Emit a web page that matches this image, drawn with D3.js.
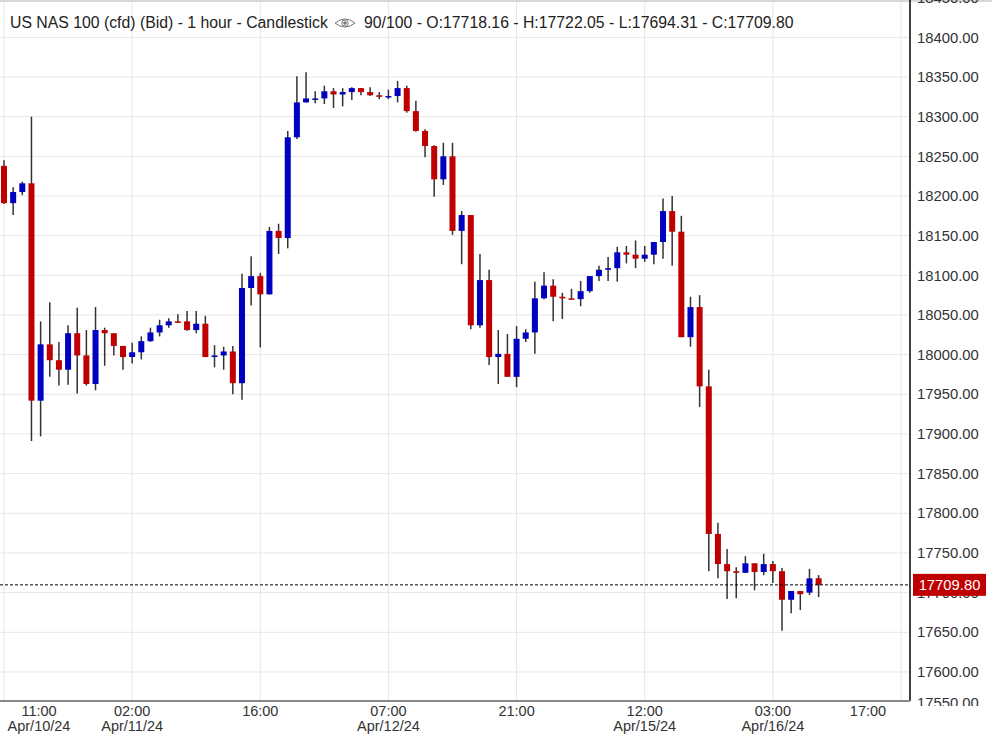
<!DOCTYPE html>
<html>
<head>
<meta charset="utf-8">
<script src="https://cdn.jsdelivr.net/npm/d3@7"></script>
<style>
  body { margin: 0; background: #fff; }
  svg { display: block; font-family: Arial, "Liberation Sans", sans-serif; }
</style>
</head>
<body>
<div id="chart"></div>
<script>
// hourly candles, index 0 = Apr/10/24 11:00
const opens = [18238,18191,18205,18216,17942,18013,17993,17981,18027,17999,
  17963,18031,18027,18011,17997,18003,18017,18028,18037,18042,
  18042,18031,18039,17997,17999,18004,17964,18084,18099,18076,
  18156,18147,18274,18318,18322,18323,18332,18328,18331,18336,
  18331,18327,18325,18326,18336,18307,18282,18263,18221,18250,
  18156,18176,18037,18094,17997,18001,17972,18020,18028,18071,
  18087,18073,18071,18070,18080,18099,18107,18109,18129,18126,
  18121,18126,18142,18181,18155,18022,18060,17960,17774,17736,
  17727,17725,17737,17726,17736,17727,17691,17702,17700,17718.16];
const highs = [18245,18211,18218,18300,18042,18066,18016,18037,18059,18031,
  18060,18034,18027,18011,18015,18023,18034,18044,18046,18051,
  18055,18055,18049,18012,18010,18011,18102,18124,18103,18161,
  18165,18282,18351,18356,18332,18339,18336,18336,18337,18336,
  18337,18331,18334,18345,18339,18320,18284,18264,18267,18267,
  18181,18176,18127,18107,18031,18026,18036,18032,18092,18104,
  18095,18078,18083,18093,18099,18112,18123,18136,18137,18144,
  18137,18142,18197,18200,18175,18073,18075,17981,17788,17755,
  17732,17746,17737,17749,17740,17731,17702,17702,17730,17722.05];
const lows = [18190,18176,18201,17891,17897,17972,17961,17962,17951,17961,
  17955,17986,17999,17981,17989,17994,18016,18023,18034,18040,
  18030,18027,17997,17984,17981,17950,17943,18062,18009,18076,
  18127,18134,18272,18318,18317,18316,18311,18313,18321,18327,
  18326,18322,18322,18318,18305,18281,18249,18199,18214,18151,
  18114,18032,18034,17987,17963,17972,17959,18016,18001,18070,
  18042,18045,18070,18061,18078,18093,18093,18092,18115,18109,
  18117,18114,18121,18112,18022,18010,17934,17727,17718,17692,
  17693,17725,17703,17722,17712,17652,17674,17678,17697,17694.31];
const closes = [18191,18205,18216,17942,18013,17993,17981,18027,17999,17963,
  18031,18027,18011,17997,18003,18017,18028,18037,18042,18041,
  18031,18039,17997,17999,18004,17964,18084,18099,18076,18156,
  18147,18274,18318,18323,18323,18332,18328,18331,18336,18331,
  18327,18325,18326,18336,18307,18282,18263,18221,18250,18156,
  18176,18037,18094,17997,18001,17972,18020,18028,18071,18087,
  18073,18071,18070,18080,18099,18107,18109,18129,18126,18121,
  18126,18142,18181,18155,18022,18060,17960,17774,17736,17727,
  17725,17737,17726,17736,17727,17691,17702,17698,17718,17709.80];

const tickIndex = [0, 14, 28, 42, 56, 70, 84, 98];
const tickTimes = ['11:00','02:00','16:00','07:00','21:00','12:00','03:00','17:00'];
const tickDates = ['Apr/10/24','Apr/11/24','','Apr/12/24','','Apr/15/24','Apr/16/24',''];
const priceTicks = d3.range(17550, 18451, 50);

const width = 992, height = 735;
const plotRight = 910, plotBottom = 701;
const up = '#0000c0', down = '#c00000';

const svg = d3.select('#chart').append('svg')
  .attr('width', width).attr('height', height);

const x = d3.scaleLinear().domain([0, 98]).range([4, 901]);
const y = d3.scaleLinear().domain([17650, 18200]).range([632.3, 196]);

svg.append('clipPath').attr('id', 'plot')
  .append('rect').attr('width', plotRight).attr('height', plotBottom);
svg.append('clipPath').attr('id', 'axis')
  .append('rect').attr('x', plotRight).attr('width', width - plotRight).attr('height', 706);

// grid
const grid = svg.append('g').attr('clip-path', 'url(#plot)');
grid.selectAll('line.h').data(priceTicks).join('line')
  .attr('x1', 0).attr('x2', plotRight)
  .attr('y1', d => y(d)).attr('y2', d => y(d))
  .attr('stroke', '#e6e6e6').attr('stroke-width', 1);
grid.selectAll('line.v').data(tickIndex).join('line')
  .attr('x1', d => x(d)).attr('x2', d => x(d))
  .attr('y1', 0).attr('y2', plotBottom)
  .attr('stroke', '#e6e6e6').attr('stroke-width', 1);

svg.append('line').attr('x1', 0).attr('x2', width).attr('y1', 1).attr('y2', 1)
  .attr('stroke', '#d8d8d8').attr('stroke-width', 2);

// candles
const data = opens.map((o, i) => ({i, o, h: highs[i], l: lows[i], c: closes[i]}));
const candles = svg.append('g').attr('clip-path', 'url(#plot)')
  .selectAll('g').data(data).join('g');
candles.append('line')
  .attr('x1', d => x(d.i)).attr('x2', d => x(d.i))
  .attr('y1', d => y(d.h)).attr('y2', d => y(d.l))
  .attr('stroke', '#333').attr('stroke-width', 1.5);
candles.append('rect')
  .attr('x', d => x(d.i) - 3).attr('width', 6)
  .attr('y', d => y(Math.max(d.o, d.c)))
  .attr('height', d => Math.max(1.5, Math.abs(y(d.o) - y(d.c))))
  .attr('fill', d => d.c >= d.o ? up : down);

// last price line
const last = closes[closes.length - 1];
svg.append('line').attr('x1', 0).attr('x2', plotRight)
  .attr('y1', y(last)).attr('y2', y(last))
  .attr('stroke', '#000').attr('stroke-dasharray', '3,2');

// y labels (bottom one nudged up, then cut by the axis edge)
svg.append('g').attr('clip-path', 'url(#axis)')
  .selectAll('text').data(priceTicks).join('text')
  .attr('x', 917).attr('y', d => Math.min(y(d), 703)).attr('dy', '0.35em')
  .attr('font-size', 14.8).attr('fill', '#333')
  .text(d => d3.format('.2f')(d));

// axes lines
svg.append('line').attr('x1', plotRight).attr('x2', plotRight)
  .attr('y1', 0).attr('y2', plotBottom).attr('stroke', '#000').attr('stroke-width', 1.5);
svg.append('line').attr('x1', 0).attr('x2', plotRight)
  .attr('y1', plotBottom).attr('y2', plotBottom).attr('stroke', '#888').attr('stroke-width', 2);

const tag = svg.append('g').attr('transform', `translate(913,${y(last)})`);
tag.append('rect').attr('x', 0).attr('y', -11).attr('width', 73).attr('height', 22).attr('fill', down);
tag.append('text').attr('x', 36.5).attr('dy', '0.36em').attr('text-anchor', 'middle')
  .attr('font-size', 14.8).attr('fill', '#fff').text(d3.format('.2f')(last));

// x labels, edge labels pushed inward
const xl = svg.append('g').attr('font-size', 14.5).attr('fill', '#333').attr('text-anchor', 'middle');
tickIndex.forEach((t, k) => {
  let cx = x(t);
  if (cx < 35) cx += 35;
  if (cx > 890) cx -= 33;
  xl.append('text').attr('x', cx).attr('y', 716).text(tickTimes[k]);
  if (tickDates[k]) xl.append('text').attr('x', cx).attr('y', 731).text(tickDates[k]);
});

// header
const hdr = svg.append('g').attr('font-size', 15.8).attr('fill', '#222');
hdr.append('text').attr('x', 10).attr('y', 28)
  .text('US NAS 100 (cfd) (Bid) - 1 hour - Candlestick');
const eye = hdr.append('g').attr('transform', 'translate(345,23)')
  .attr('fill', 'none').attr('stroke', '#777').attr('stroke-width', 1);
eye.append('path').attr('d', 'M-10,0 Q0,-8 10,0 Q0,8 -10,0 Z');
eye.append('circle').attr('r', 3.2);
eye.append('circle').attr('r', 1.3).attr('fill', '#777');
hdr.append('text').attr('x', 364).attr('y', 28)
  .text('90/100 - O:17718.16 - H:17722.05 - L:17694.31 - C:17709.80');
</script>
</body>
</html>
